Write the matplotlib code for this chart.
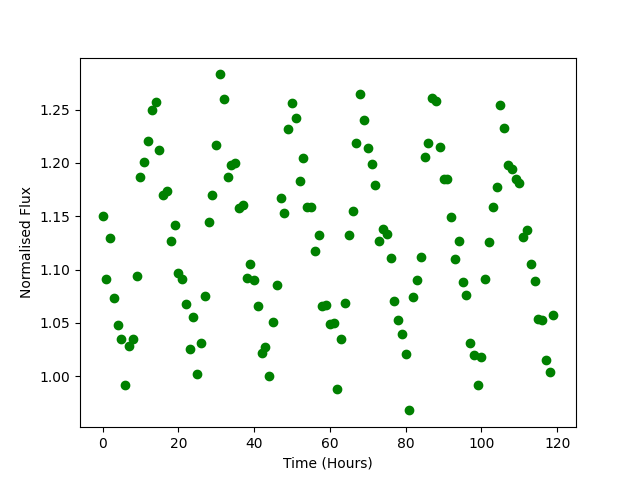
import numpy as np
import matplotlib
matplotlib.use("Agg")
import matplotlib.pyplot as plt

hours = list(range(120))
flux = [
    1.150, 1.091, 1.130, 1.073, 1.048, 1.035, 0.992, 1.028, 1.035, 1.094,
    1.187, 1.201, 1.221, 1.250, 1.257, 1.212, 1.170, 1.174, 1.127, 1.142,
    1.097, 1.091, 1.068, 1.026, 1.056, 1.002, 1.031, 1.075, 1.145, 1.170,
    1.217, 1.283, 1.260, 1.187, 1.198, 1.200, 1.158, 1.161, 1.092, 1.105,
    1.090, 1.066, 1.022, 1.027, 1.000, 1.051, 1.086, 1.167, 1.153, 1.232,
    1.256, 1.242, 1.183, 1.205, 1.159, 1.159, 1.117, 1.132, 1.066, 1.067,
    1.049, 1.050, 0.988, 1.035, 1.069, 1.132, 1.155, 1.219, 1.265, 1.240,
    1.214, 1.199, 1.179, 1.127, 1.138, 1.133, 1.111, 1.071, 1.053, 1.040,
    1.021, 0.968, 1.074, 1.090, 1.112, 1.206, 1.219, 1.261, 1.258, 1.215,
    1.185, 1.185, 1.149, 1.110, 1.127, 1.088, 1.076, 1.031, 1.020, 0.992,
    1.018, 1.091, 1.126, 1.159, 1.177, 1.254, 1.233, 1.198, 1.194, 1.185,
    1.181, 1.131, 1.137, 1.105, 1.089, 1.054, 1.053, 1.015, 1.004, 1.057,
]

fig, ax = plt.subplots(figsize=(6.4, 4.8), dpi=100)
ax.plot(hours, flux, 'o', color='green')
ax.set_xlabel('Time (Hours)')
ax.set_ylabel('Normalised Flux')
fig.savefig('out.png')
